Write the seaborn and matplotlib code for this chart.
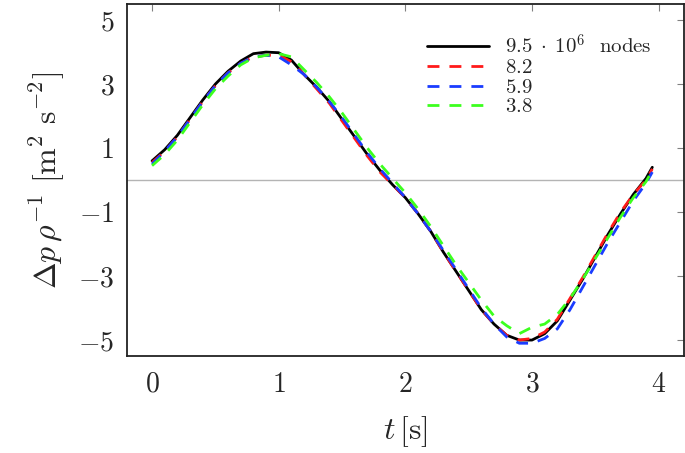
"""
Pressure difference over time for several mesh sizes.
"""
import matplotlib
matplotlib.use('Agg')
import seaborn as sns
import matplotlib.pyplot as plt
import pandas as pd

sns.set_style('white')
plt.rcParams['mathtext.fontset'] = 'cm'
plt.rcParams['font.family'] = 'serif'
plt.rcParams['font.serif'] = ['cmr10', 'DejaVu Serif']
plt.rcParams['axes.unicode_minus'] = False

t = [0.0, 0.1, 0.2, 0.3, 0.4, 0.5, 0.6, 0.7, 0.8, 0.9,
     1.0, 1.1, 1.2, 1.3, 1.4, 1.5, 1.6, 1.7, 1.8, 1.9,
     2.0, 2.1, 2.2, 2.3, 2.4, 2.5, 2.6, 2.7, 2.8, 2.9,
     3.0, 3.1, 3.2, 3.3, 3.4, 3.5, 3.6, 3.7, 3.8, 3.9, 3.95]

dp_95 = [0.6, 0.95, 1.4, 1.95, 2.5, 3.0, 3.4, 3.72, 3.95, 4.0,
         3.98, 3.75, 3.3, 2.9, 2.45, 1.9, 1.35, 0.8, 0.3, -0.15,
         -0.55, -1.05, -1.6, -2.25, -2.85, -3.45, -4.05, -4.5, -4.85, -5.0,
         -5.0, -4.8, -4.4, -3.75, -3.1, -2.4, -1.7, -1.05, -0.45, 0.05, 0.4]
dp_82 = [0.55, 0.9, 1.35, 1.9, 2.45, 2.95, 3.35, 3.65, 3.85, 3.9,
         3.9, 3.7, 3.3, 2.85, 2.4, 1.85, 1.3, 0.75, 0.25, -0.15,
         -0.55, -1.05, -1.6, -2.25, -2.85, -3.45, -4.05, -4.5, -4.85, -5.0,
         -4.95, -4.75, -4.35, -3.7, -3.05, -2.35, -1.65, -1.0, -0.45, 0.0, 0.35]
dp_59 = [0.5, 0.9, 1.35, 1.9, 2.45, 2.95, 3.35, 3.65, 3.85, 3.9,
         3.85, 3.6, 3.3, 2.9, 2.45, 1.95, 1.4, 0.85, 0.35, -0.1,
         -0.55, -1.05, -1.6, -2.2, -2.8, -3.4, -4.0, -4.5, -4.9, -5.1,
         -5.1, -4.95, -4.65, -4.05, -3.35, -2.65, -1.95, -1.3, -0.65, -0.1, 0.25]
dp_38 = [0.45, 0.8, 1.25, 1.8, 2.35, 2.85, 3.25, 3.6, 3.82, 3.9,
         3.95, 3.85, 3.45, 3.05, 2.6, 2.1, 1.55, 1.0, 0.5, 0.05,
         -0.4, -0.9, -1.45, -2.05, -2.65, -3.2, -3.75, -4.25, -4.55, -4.8,
         -4.6, -4.5, -4.2, -3.7, -3.1, -2.45, -1.8, -1.15, -0.55, -0.05, 0.3]

labels = [r'$9.5\;\cdot\;10^{6}$  nodes', r'$8.2$', r'$5.9$', r'$3.8$']
series = [dp_95, dp_82, dp_59, dp_38]
colors = ['black', '#ff1a1a', '#1a3cff', '#3cff1e']
xticks = [0, 1, 2, 3, 4]
yticks = [-5, -3, -1, 1, 3, 5]

fig = plt.figure(figsize=(6.85, 4.53), dpi=100)
ax = fig.add_axes([0.185, 0.214, 0.8135, 0.777])

ax.axhline(0, color='#b4b4b4', lw=1.0, zorder=1)

for lab, vals, col in zip(labels, series, colors):
    df = pd.DataFrame({'t': t, 'dp': vals})
    if col == 'black':
        sns.lineplot(data=df, x='t', y='dp', ax=ax, color=col, lw=2.0,
                     label=lab, zorder=2)
    else:
        sns.lineplot(data=df, x='t', y='dp', ax=ax, color=col, lw=2.0,
                     label=lab, zorder=3, linestyle=(0, (4.3, 3.6)))

ax.set_xlim(-0.2, 4.2)
ax.set_ylim(-5.5, 5.5)
ax.set_xticks(xticks)
ax.set_yticks(yticks)
ax.set_xticklabels([f'${v}$' for v in xticks], fontsize=20)
ax.set_yticklabels([f'${v}$' for v in yticks], fontsize=20)
ax.tick_params(direction='in', length=5, color='#808080', width=0.8,
               top=True, right=True)
ax.tick_params(axis='x', pad=11)
ax.tick_params(axis='y', pad=9)
for s in ax.spines.values():
    s.set_color('#222222')
    s.set_linewidth(1.3)

ax.set_xlabel(r'$t\,[\mathrm{s}]$', fontsize=23, labelpad=12)
ax.set_ylabel(r'$\Delta p\,\rho^{-1}\ [\mathrm{m}^2\ \mathrm{s}^{-2}]$',
              fontsize=23, labelpad=8)

ax.legend(loc='upper right', frameon=False, fontsize=15,
          handlelength=3.0, handletextpad=0.75, labelspacing=0.05,
          bbox_to_anchor=(0.975, 0.97))

fig.savefig('out.png', dpi=100)
